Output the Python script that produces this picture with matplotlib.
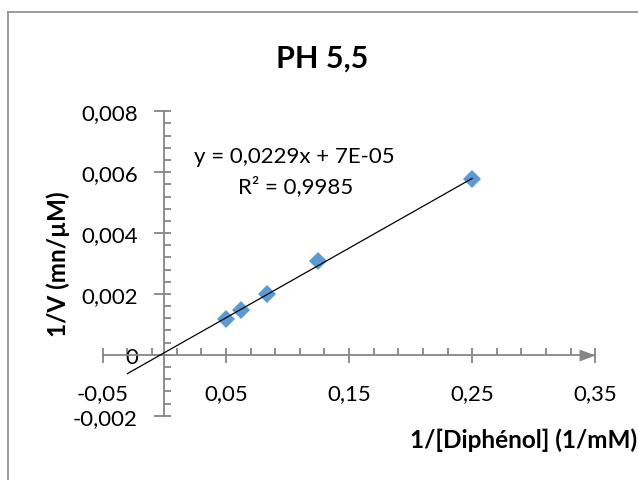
import matplotlib
matplotlib.use("Agg")
import matplotlib.pyplot as plt
from matplotlib.ticker import MultipleLocator, FixedLocator, FuncFormatter
from matplotlib.path import Path
from matplotlib.lines import Line2D
import numpy as np

plt.rcParams['font.family'] = ['Lato', 'DejaVu Sans']

# Lineweaver-Burk data, pH 5.5
inv_s = [0.05, 0.0625, 0.0833, 0.125, 0.25]        # 1/[Diphénol] (1/mM)
inv_v = [0.00117, 0.00147, 0.00199, 0.00308, 0.00576]  # 1/V (mn/µM)

slope = 0.0229
intercept = 7e-05
r2 = 0.9985
fit_x = [-0.03, 0.25]

x_major = [-0.05, 0.05, 0.15, 0.25, 0.35]

W, H = 638, 481
fig = plt.figure(figsize=(W / 100, H / 100), dpi=100)

# chart frame (top and left edges visible)
fig.add_artist(Line2D([8 / W, 8 / W], [0, 1 - 13 / H], color='#8c8c8c', lw=1.2))
fig.add_artist(Line2D([8 / W, 1], [1 - 13 / H, 1 - 13 / H], color='#8c8c8c', lw=1.2))

ax = fig.add_axes([102.8 / W, 1 - 416.7 / H, (595.3 - 102.8) / W, (416.7 - 112.3) / H])
ax.set_xlim(-0.05, 0.35)
ax.set_ylim(-0.002, 0.008)

axis_col = '#868686'
for s in ('top', 'right'):
    ax.spines[s].set_visible(False)
ax.spines['left'].set_position(('data', 0))
ax.spines['bottom'].set_position(('data', 0))
for s in ('left', 'bottom'):
    ax.spines[s].set_color(axis_col)
    ax.spines[s].set_linewidth(1.3)

ax.xaxis.set_major_locator(FixedLocator(x_major))
ax.xaxis.set_minor_locator(FixedLocator(np.round(np.arange(-0.05, 0.351, 0.02), 3)))
ax.yaxis.set_major_locator(MultipleLocator(0.002))
ax.yaxis.set_minor_locator(MultipleLocator(0.0004))
ax.xaxis.remove_overlapping_locs = False
ax.yaxis.remove_overlapping_locs = False

ax.xaxis.set_major_formatter(FuncFormatter(lambda v, p: f"{v:.2f}".replace('.', ',')))
ax.yaxis.set_major_formatter(FuncFormatter(
    lambda v, p: '0' if abs(v) < 1e-9 else f"{v:.3f}".replace('.', ',')))

ax.tick_params(axis='x', which='major', direction='out', length=6, width=1.3,
               color=axis_col, labelsize=16, pad=14)
ax.tick_params(axis='x', which='minor', direction='in', length=5, width=1.3, color=axis_col)
ax.tick_params(axis='y', which='major', direction='out', length=7, width=1.3,
               color=axis_col, labelsize=16, pad=12)
ax.tick_params(axis='y', which='minor', direction='in', length=5, width=1.3, color=axis_col)

# arrow head at the end of the x axis
arrow = Path([(0, 0), (-1, 0.375), (-1, -0.375), (0, 0)],
             [Path.MOVETO, Path.LINETO, Path.LINETO, Path.CLOSEPOLY])
ax.plot([0.35], [0], marker=arrow, markersize=23, color=axis_col,
        markeredgewidth=0, clip_on=False, zorder=3)

# trendline
fit_y = [slope * v + intercept for v in fit_x]
ax.plot(fit_x, fit_y, color='black', lw=0.9, clip_on=False, zorder=4)

ax.plot(inv_s, inv_v, linestyle='none', marker='D', markersize=9.5,
        color='#5b9bd5', markeredgewidth=0, clip_on=False, zorder=3)

fig.text(294 / W, 1 - 163 / H,
         f"y = {slope:.4f}x + 7E-05".replace('0.', '0,'),
         ha='center', va='baseline', fontsize=16)
fig.text(296 / W, 1 - 193 / H, f"R² = {r2:.4f}".replace('.', ','),
         ha='center', va='baseline', fontsize=16)

fig.text(321.7 / W, 1 - 68 / H, "PH 5,5", ha='center', va='baseline',
         fontsize=22, fontweight='bold')
fig.text(58 / W, 1 - 264 / H, "1/V (mn/µM)", ha='center', va='center',
         rotation=90, fontsize=17.5, fontweight='bold')
fig.text(637 / W, 1 - 440 / H, "1/[Diphénol] (1/mM)", ha='right', va='center',
         fontsize=17.5, fontweight='bold')

fig.savefig('out.png', dpi=100)
